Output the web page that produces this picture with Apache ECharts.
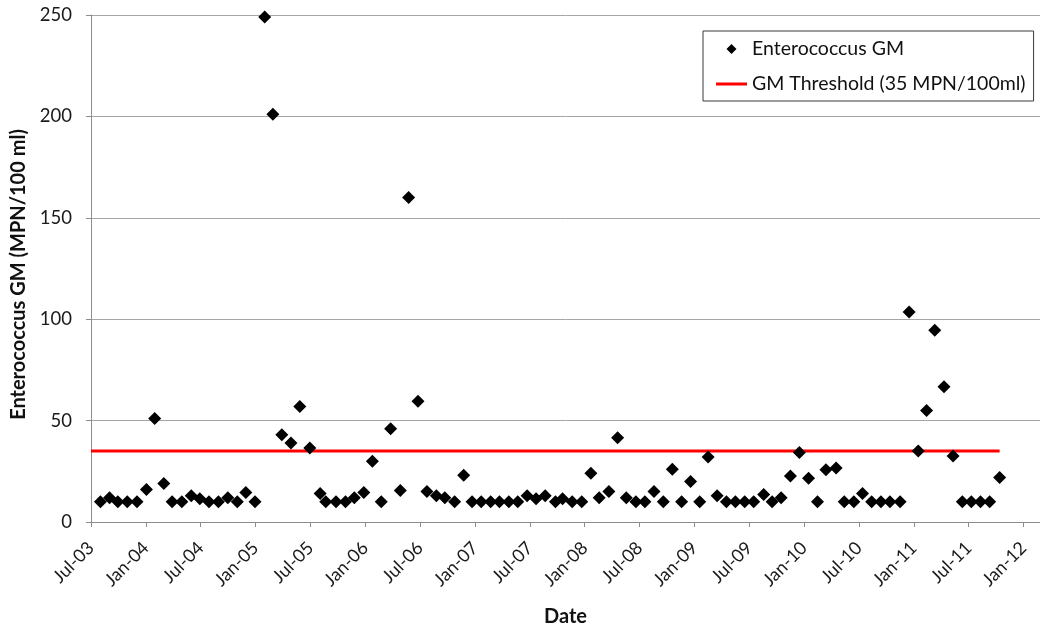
<!DOCTYPE html>
<html>
<head>
<meta charset="utf-8">
<script src="https://cdn.jsdelivr.net/npm/echarts@6/dist/echarts.min.js"></script>
<style>
  html, body { margin: 0; padding: 0; background: #fff; }
  #chart { width: 1040px; height: 632px; }
</style>
</head>
<body>
<div id="chart"></div>
<script>
// ---- Data ----
const sampleDates = [
  '2003-08-02','2003-09-02','2003-09-29','2003-10-31','2003-12-02','2004-01-03','2004-01-31','2004-02-29',
  '2004-03-28','2004-04-29','2004-05-31','2004-06-28','2004-07-29','2004-08-30','2004-09-30','2004-11-01',
  '2004-11-29','2004-12-30','2005-02-01','2005-02-26','2005-03-28','2005-04-27','2005-05-27','2005-06-29',
  '2005-08-03','2005-08-22','2005-09-25','2005-10-27','2005-11-25','2005-12-27','2006-01-25','2006-02-22',
  '2006-03-25','2006-04-26','2006-05-24','2006-06-24','2006-07-24','2006-08-25','2006-09-22','2006-10-25',
  '2006-11-24','2006-12-22','2007-01-22','2007-02-21','2007-03-22','2007-04-22','2007-05-22','2007-06-22',
  '2007-07-22','2007-08-22','2007-09-25','2007-10-19','2007-11-20','2007-12-22','2008-01-22','2008-02-18',
  '2008-03-21','2008-04-19','2008-05-18','2008-06-19','2008-07-19','2008-08-19','2008-09-19','2008-10-19',
  '2008-11-19','2008-12-19','2009-01-19','2009-02-15','2009-03-16','2009-04-16','2009-05-16','2009-06-16',
  '2009-07-16','2009-08-19','2009-09-16','2009-10-16','2009-11-16','2009-12-16','2010-01-16','2010-02-14',
  '2010-03-13','2010-04-16','2010-05-13','2010-06-14','2010-07-13','2010-08-13','2010-09-13','2010-10-13',
  '2010-11-16','2010-12-16','2011-01-16','2011-02-12','2011-03-10','2011-04-10','2011-05-10','2011-06-10',
  '2011-07-10','2011-08-10','2011-09-10','2011-10-13'
];
const enterococcusGM = [
  10, 12, 10, 10, 10, 16, 51, 19,
  10, 10, 13, 11.5, 10, 10, 12, 10,
  14.5, 10, 249, 201, 43, 39, 57, 36.5,
  14, 10, 10, 10, 12, 14.5, 30, 10,
  46, 15.5, 160, 59.5, 15, 13, 12, 10,
  23, 10, 10, 10, 10, 10, 10, 13,
  11.5, 13, 10, 11.5, 10, 10, 24, 12,
  15, 41.5, 12, 10, 10, 15, 10, 26,
  10, 20, 10, 32, 13, 10, 10, 10,
  10, 13.5, 10, 12, 22.7, 34.3, 21.6, 10,
  25.8, 26.6, 10, 10, 14, 10, 10, 10,
  10, 103.5, 35, 55, 94.5, 66.7, 32.5, 10,
  10, 10, 10, 22
];
const thresholdValue = 35;
const thresholdStart = '2003-07-01';
const axisStart = '2003-07-01';     // first tick (Jul-03)
const axisEndMonths = 103.8;        // plot runs a little past Jan-12
const tickMonths = 6;               // a tick every 6 months
const yTicks = [0, 50, 100, 150, 200, 250];
const monthNames = ['Jan','Feb','Mar','Apr','May','Jun','Jul','Aug','Sep','Oct','Nov','Dec'];

// ---- helpers: convert dates to fractional months since the axis start ----
function toMonths(s) {
  const [y, m, d] = s.split('-').map(Number);
  const [y0, m0] = axisStart.split('-').map(Number);
  const dim = new Date(y, m, 0).getDate();
  return (y - y0) * 12 + (m - m0) + (d - 1) / dim;
}
function monthLabel(v) {
  const [y0, m0] = axisStart.split('-').map(Number);
  const r = Math.round(v);
  if (Math.abs(v - r) > 1e-6 || r % tickMonths !== 0) return '';
  const total = (m0 - 1) + r;
  const yr = y0 + Math.floor(total / 12);
  const mo = total % 12;
  return monthNames[mo] + '-' + String(yr % 100).padStart(2, '0');
}

const scatterData = sampleDates.map((d, i) => [toMonths(d), enterococcusGM[i]]);
const thresholdData = [
  [toMonths(thresholdStart), thresholdValue],
  [toMonths(sampleDates[sampleDates.length - 1]), thresholdValue]
];

const FONT = 'Lato, "Open Sans", "Noto Sans", sans-serif';
const chart = echarts.init(document.getElementById('chart'), null, { renderer: 'canvas' });
chart.setOption({
  animation: false,
  backgroundColor: '#ffffff',
  textStyle: { fontFamily: FONT },
  grid: { left: 91, right: 0, top: 15, bottom: 106, containLabel: false },
  legend: {
    orient: 'vertical',
    left: 703,
    top: 31,
    padding: [8, 8, 7, 13],
    itemWidth: 31,
    itemHeight: 10,
    itemGap: 15,
    backgroundColor: '#ffffff',
    borderColor: '#3a3a3a',
    borderWidth: 1,
    borderRadius: 0,
    textStyle: { fontFamily: FONT, fontSize: 19.5, color: '#111', lineHeight: 18 },
    data: [
      { name: 'Enterococcus GM', icon: 'path://M0,-1L1,0L0,1L-1,0Z', itemStyle: { color: '#000', opacity: 1 } },
      { name: 'GM Threshold (35 MPN/100ml)', icon: 'path://M0,0L31,0L31,3L0,3Z', itemStyle: { color: '#ff0000' } }
    ]
  },
  xAxis: [
    {
      // main axis: line, ticks and title
      type: 'value',
      position: 'bottom',
      min: 0,
      max: axisEndMonths,
      interval: tickMonths,
      name: 'Date',
      nameLocation: 'middle',
      nameGap: 85,
      nameTextStyle: { fontFamily: FONT, fontSize: 20, fontWeight: 'bold', color: '#111', verticalAlign: 'top' },
      axisLine: { show: true, lineStyle: { color: '#8c8c8c', width: 1 } },
      axisTick: { show: true, length: 5, lineStyle: { color: '#8c8c8c' } },
      axisLabel: { show: false },
      splitLine: { show: false }
    },
    {
      // same scale, only carries the rotated month labels a bit lower
      type: 'value',
      position: 'bottom',
      offset: 14,
      min: 0,
      max: axisEndMonths,
      interval: tickMonths,
      axisLine: { show: false },
      axisTick: { show: false },
      axisLabel: {
        rotate: 45,
        interval: 0,
        margin: 9,
        showMinLabel: true,
        showMaxLabel: false,
        fontFamily: FONT,
        fontSize: 18,
        color: '#1a1a1a',
        formatter: monthLabel
      },
      splitLine: { show: false }
    }
  ],
  yAxis: {
    type: 'value',
    min: yTicks[0],
    max: yTicks[yTicks.length - 1],
    interval: yTicks[1] - yTicks[0],
    name: 'Enterococcus GM (MPN/100 ml)',
    nameLocation: 'middle',
    nameGap: 59,
    nameTextStyle: { fontFamily: FONT, fontSize: 20, fontWeight: 'bold', color: '#111', padding: [0, 12, 0, 0] },
    axisLine: { show: true, lineStyle: { color: '#8c8c8c', width: 1 } },
    axisTick: { show: true, length: 5, lineStyle: { color: '#8c8c8c' } },
    axisLabel: { fontFamily: FONT, fontSize: 18.5, color: '#1a1a1a', margin: 19 },
    splitLine: { show: true, lineStyle: { color: '#a6a6a6', width: 1 } }
  },
  series: [
    {
      name: 'GM Threshold (35 MPN/100ml)',
      type: 'line',
      xAxisIndex: 0,
      data: thresholdData,
      symbol: 'none',
      showSymbol: false,
      lineStyle: { color: '#ff0000', width: 3 },
      itemStyle: { color: '#ff0000' },
      z: 2
    },
    {
      name: 'Enterococcus GM',
      type: 'scatter',
      xAxisIndex: 0,
      data: scatterData,
      symbol: 'diamond',
      symbolSize: 13,
      itemStyle: { color: '#000000', opacity: 1 },
      z: 3
    }
  ]
});
</script>
</body>
</html>
